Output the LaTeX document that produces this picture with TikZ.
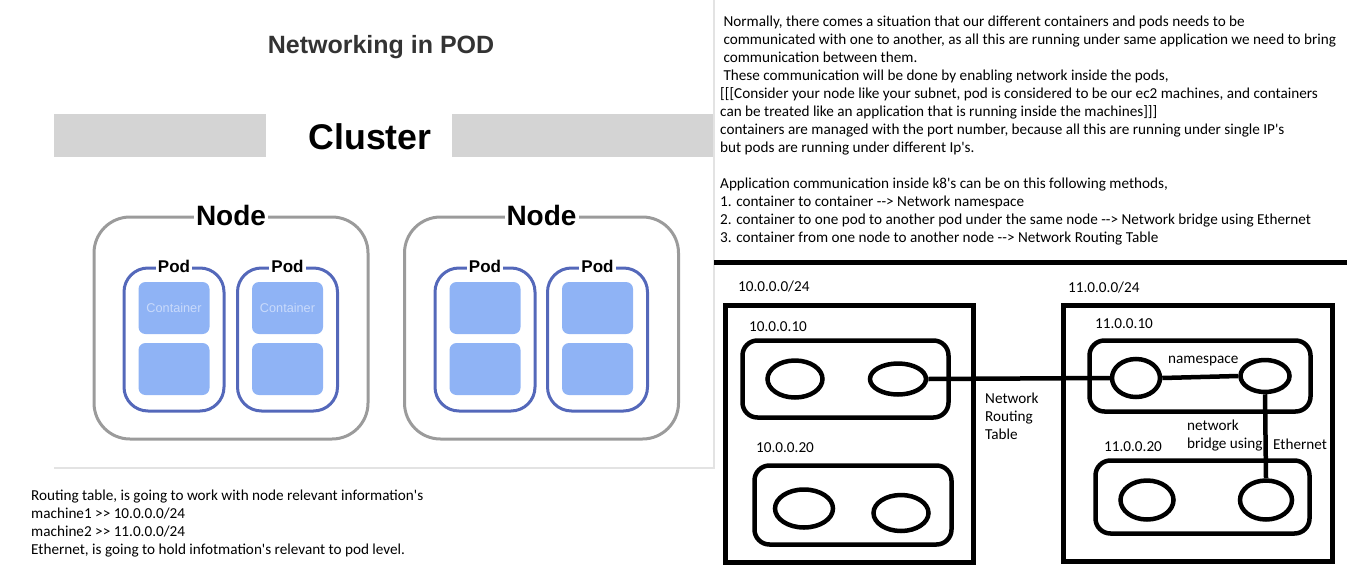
\documentclass[tikz,border=0pt]{standalone}
\usepackage{fontspec}
\setmainfont{Carlito}
\newfontfamily\arialfont{Liberation Sans}
\usetikzlibrary{shapes.geometric}
\definecolor{titlegray}{HTML}{333333}
\definecolor{bargray}{HTML}{D4D4D4}
\definecolor{edgegray}{HTML}{E3E3E3}
\definecolor{framegray}{HTML}{9B9B9B}
\definecolor{podblue}{HTML}{5468BA}
\definecolor{boxblue}{HTML}{8FB3F5}
\definecolor{boxtext}{HTML}{C9DAFB}
\tikzset{
	notes/.style={align=left, inner sep=0pt, font=\fontsize{15.2}{18}\selectfont},
	iplabel/.style={anchor=west, inner sep=0pt, font=\fontsize{15.2}{18}\selectfont},
	hostbox/.style={draw, line width=4.5pt, inner sep=0pt},
	podbox/.style={draw, line width=4.5pt, rounded corners=15pt, inner sep=0pt},
	app/.style={draw, ellipse, line width=4.5pt, inner sep=0pt},
	link/.style={line width=4.5pt},
	nodeframe/.style={draw=framegray, line width=3pt, rounded corners=36pt, minimum width=274pt, minimum height=222pt},
	podframe/.style={draw=podblue, line width=3pt, rounded corners=24pt, minimum width=100pt, minimum height=143pt},
	ctr/.style={fill=boxblue, rounded corners=7pt, minimum width=71pt, minimum height=52pt, inner sep=0pt,
		text=boxtext, font=\arialfont\fontsize{12.7}{13}\selectfont},
	framelabel/.style={fill=white, inner xsep=2pt, inner ysep=0pt, font=\arialfont\bfseries\fontsize{28}{28}\selectfont},
	podlabel/.style={fill=white, inner xsep=2pt, inner ysep=0pt, font=\arialfont\bfseries\fontsize{17}{17}\selectfont}
}

\begin{document}
\begin{tikzpicture}[x=1pt,y=-1pt]
	\useasboundingbox (0,0) rectangle (1360,573);

	% screenshot of the cluster picture
	\draw[edgegray, line width=1.5pt] (54,468) -- (714,468) -- (714,0);
	\node[text=titlegray, font=\arialfont\bfseries\fontsize{25}{25}\selectfont] (title) at (381,47) {Networking in POD};
	\fill[bargray] (54,114) rectangle (266,157);
	\fill[bargray] (452,114) rectangle (713,157);
	\node[font=\arialfont\bfseries\fontsize{35.7}{36}\selectfont] (cluster) at (370,137) {Cluster};

	\node[nodeframe] (n1) at (231,328) {};
	\node[nodeframe] (n2) at (541.5,328) {};
	\node[framelabel] at (n1.north) {Node};
	\node[framelabel] at (n2.north) {Node};

	\foreach \x/\name in {174/p1, 287.5/p2, 485/p3, 597.5/p4} {
		\node[podframe] (\name) at (\x,339.5) {};
		\node[podlabel] at (\name.north) {Pod};
		\node[ctr] (\name a) at (\x,369) {};
	}
	\node[ctr] (p1c) at (174,308) {Container};
	\node[ctr] (p2c) at (287.5,308) {Container};
	\node[ctr] (p3c) at (485,308) {};
	\node[ctr] (p4c) at (597.5,308) {};

	\node[notes, anchor=north west] (routing) at (31,489.5) {Routing table, is going to work with node relevant information\textquotesingle s\\
		machine1 >{}> 10.0.0.0/24\\
		machine2 >{}> 11.0.0.0/24\\
		Ethernet, is going to hold infotmation\textquotesingle s relevant to pod level.};

	% notes on the right
	\node[notes, anchor=north west] (intro) at (720,15.5) {\hspace*{3.3pt}Normally, there comes a situation that our different containers and pods needs to be\\
		\hspace*{3.3pt}communicated with one to another, as all this are running under same application we need to bring\\
		\hspace*{3.3pt}communication between them.\\
		\hspace*{3.3pt}These communication will be done by enabling network inside the pods,\\
		{}[[[Consider your node like your subnet, pod is considered to be our ec2 machines, and containers\\
		can be treated like an application that is running inside the machines]]]\\
		containers are managed with the port number, because all this are running under single IP\textquotesingle s\\
		but pods are running under different Ip\textquotesingle s.\\
		\mbox{}\\
		Application communication inside k8\textquotesingle s can be on this following methods,\\
		1. container to container -{}-> Network namespace\\
		2. container to one pod to another pod under the same node -{}-> Network bridge using Ethernet\\
		3. container from one node to another node -{}-> Network Routing Table};

	\draw[line width=5pt] (714,262) -- (1347,262);

	% machine 1
	\node[iplabel] at (738,287) {10.0.0.0/24};
	\node[hostbox, minimum width=248pt, minimum height=257pt] (m1) at (849.5,434) {};
	\node[iplabel] at (749,327) {10.0.0.10};
	\node[podbox, minimum width=206pt, minimum height=77pt] (pod10) at (845.5,379) {};
	\node[app, minimum width=55pt, minimum height=37pt] (e11) at (795,379) {};
	\node[app, minimum width=56pt, minimum height=31pt] (e12) at (898,379) {};
	\node[iplabel] at (756,448) {10.0.0.20};
	\node[podbox, minimum width=197pt, minimum height=79pt] (pod20) at (853,505) {};
	\node[app, minimum width=58pt, minimum height=38pt] (e21) at (804,508.5) {};
	\node[app, minimum width=55pt, minimum height=36pt] (e22) at (901,513) {};

	\node[iplabel, align=left] at (985,416) {Network\\Routing\\Table};

	% machine 2
	\node[iplabel] at (1068,288) {11.0.0.0/24};
	\node[hostbox, minimum width=269pt, minimum height=256pt] (m2) at (1198,433.5) {};
	\node[iplabel] at (1095,324) {11.0.0.10};
	\node[podbox, minimum width=221pt, minimum height=71pt] (pod11) at (1200,376) {};
	\node[app, minimum width=48pt, minimum height=38pt] (f11) at (1136,378) {};
	\node[app, minimum width=49pt, minimum height=32pt] (f12) at (1265,376) {};
	\node[iplabel] at (1168,361) {namespace};
	\node[iplabel] at (1104,447) {11.0.0.20};
	\node[podbox, minimum width=214pt, minimum height=73pt] (pod21) at (1202.5,497) {};
	\node[app, minimum width=53pt, minimum height=39pt] (g11) at (1147,500) {};
	\node[app, minimum width=52pt, minimum height=39pt] (g12) at (1266,500) {};
	\node[iplabel, align=left] at (1187,435.5) {network\\bridge using};
	\node[iplabel] at (1273,444) {Ethernet};

	\draw[link] (e12.east) -- (f11.west);
	\draw[link] (f11.east) -- (f12.west);
	\draw[link] (f12.south) -- (g12.north);
\end{tikzpicture}
\end{document}
